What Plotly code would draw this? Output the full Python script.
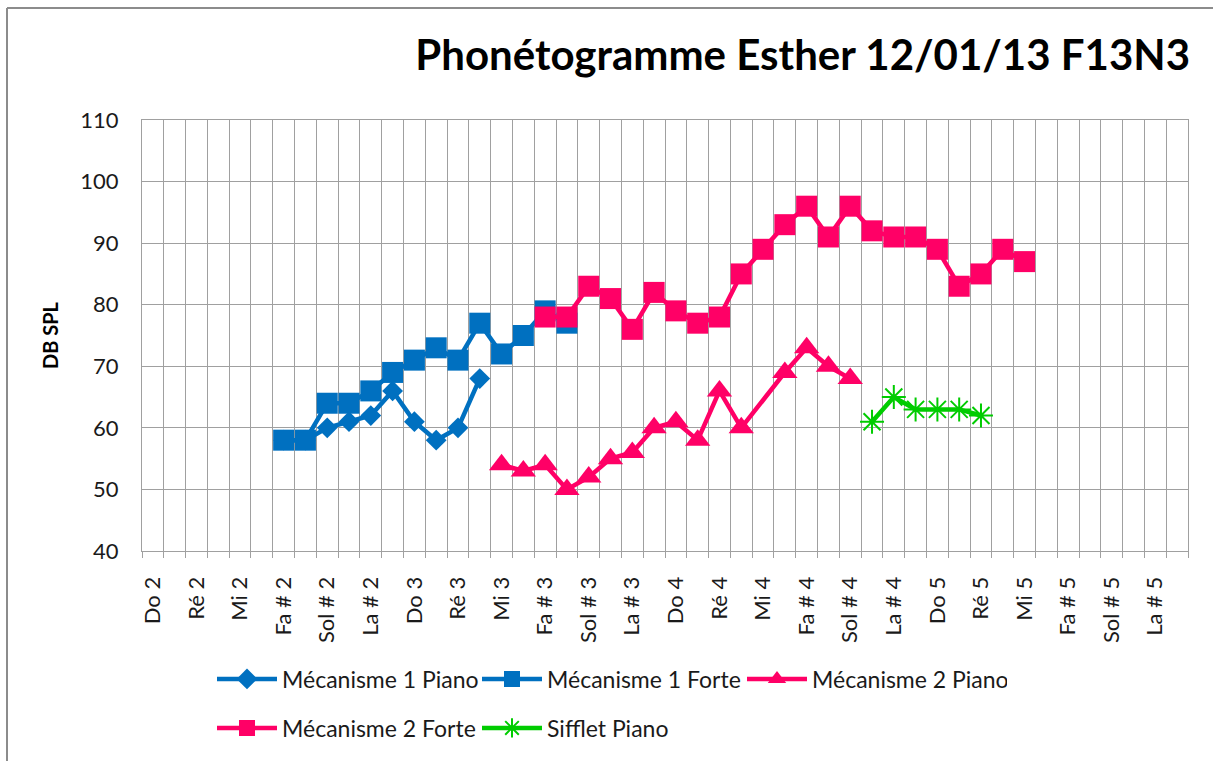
import plotly.graph_objects as go

# Note names along the x axis (four octaves, semitone steps)
note_names = ["Do", "Do #", "Ré", "Ré #", "Mi", "Fa", "Fa #", "Sol", "Sol #", "La", "La #", "Si"]
octaves = [2, 3, 4, 5]
categories = [f"{n} {o}" for o in octaves for n in note_names]

# Series: first note of each series and the measured levels (dB SPL)
m1_piano_start = "Fa # 2"
m1_piano = [58, 58, 60, 61, 62, 66, 61, 58, 60, 68]

m1_forte_start = "Fa # 2"
m1_forte = [58, 58, 64, 64, 66, 69, 71, 73, 71, 77, 72, 75, 79, 77]

m2_piano_start = "Mi 3"
m2_piano = [54, 53, 54, 50, 52, 55, 56, 60, 61, 58, 66, 60, None, 69, 73, 70, 68]

m2_forte_start = "Fa # 3"
m2_forte = [78, 78, 83, 81, 76, 82, 79, 77, 78, 85, 89, 93, 96, 91, 96, 92, 91, 91,
            89, 83, 85, 89, 87]

sifflet_start = "La 4"
sifflet_piano = [61, 65, 63, 63, 63, 62]

BLUE = "#0070C0"
PINK = "#FF0066"
GREEN = "#00CC00"
FONT = "Lato"


def xs(start, values):
    i0 = categories.index(start)
    return list(range(i0, i0 + len(values)))


fig = go.Figure()

series = [
    ("Mécanisme 1 Piano", m1_piano_start, m1_piano, BLUE, dict(symbol="diamond", size=16), "legend"),
    ("Mécanisme 1 Forte", m1_forte_start, m1_forte, BLUE, dict(symbol="square", size=21), "legend"),
    ("Mécanisme 2 Piano", m2_piano_start, m2_piano, PINK, dict(symbol="triangle-up", size=22), "legend"),
    ("Mécanisme 2 Forte", m2_forte_start, m2_forte, PINK, dict(symbol="square", size=21), "legend2"),
    ("Sifflet Piano", sifflet_start, sifflet_piano, GREEN,
     dict(symbol="asterisk-open", size=20, line=dict(width=2, color=GREEN)), "legend2"),
]

for name, start, vals, color, marker, leg in series:
    fig.add_trace(go.Scatter(
        x=xs(start, vals), y=vals, name=name, mode="lines+markers",
        connectgaps=True,
        line=dict(color=color, width=4.5),
        marker=dict(color=color, **marker),
        legend=leg,
    ))

GRID = "#a0a0a0"
W, H = 1213, 761
L, R, T, B = 142, 25, 120, 210
PW, PH = W - L - R, H - T - B


def px_x(px):
    return (px - L) / PW


def px_y(py):
    return (H - B - py) / PH


legend_style = dict(
    orientation="h", xanchor="left", yanchor="middle",
    entrywidth=190, entrywidthmode="pixels", itemwidth=60,
    font=dict(family=FONT, size=23, color="#1a1a1a"),
    bgcolor="rgba(0,0,0,0)",
)

fig.update_layout(
    width=W, height=H,
    template="none",
    paper_bgcolor="white", plot_bgcolor="white",
    margin=dict(l=L, r=R, t=T, b=B),
    font=dict(family=FONT, color="#1a1a1a", size=22),
    title=dict(
        text="Phonétogramme Esther 12/01/13 F13N3",
        font=dict(family=FONT, size=42, weight="bold", color="#000000"),
        x=1190 / W, xanchor="right", xref="container",
        y=1 - 55 / H, yanchor="middle", yref="container",
    ),
    xaxis=dict(
        range=[-0.5, len(categories) - 0.5],
        tickmode="array",
        tickvals=list(range(0, len(categories), 2)),
        ticktext=categories[::2],
        tickangle=-90,
        showgrid=False,
        ticks="", ticklabelstandoff=16,
        tickfont=dict(family=FONT, size=22, color="#1a1a1a"),
        showline=True, linecolor=GRID, linewidth=1, mirror=True,
        zeroline=False,
        minor=dict(tick0=-0.5, dtick=1, showgrid=True, gridcolor=GRID, gridwidth=1,
                   ticks="outside", ticklen=6, tickcolor=GRID),
    ),
    yaxis=dict(
        range=[40, 110], dtick=10, tick0=40,
        showgrid=True, gridcolor=GRID, gridwidth=1,
        ticks="", ticklabelstandoff=18,
        tickfont=dict(family=FONT, size=22, color="#1a1a1a"),
        showline=True, linecolor=GRID, linewidth=1, mirror=True,
        zeroline=False,
        title=dict(text="DB SPL", font=dict(family=FONT, size=20, weight="bold", color="#000000"),
                   standoff=16),
    ),
    legend=dict(x=px_x(212), y=px_y(679), **legend_style),
    legend2=dict(x=px_x(212), y=px_y(728), **legend_style),
)

# Chart frame (top and left edges)
fig.add_shape(type="line", xref="paper", yref="paper",
              x0=px_x(7), x1=px_x(W + 5), y0=px_y(8), y1=px_y(8),
              line=dict(color="#8c8c8c", width=2))
fig.add_shape(type="line", xref="paper", yref="paper",
              x0=px_x(7), x1=px_x(7), y0=px_y(8), y1=px_y(H + 5),
              line=dict(color="#8c8c8c", width=2))

fig.write_html("out.html")
